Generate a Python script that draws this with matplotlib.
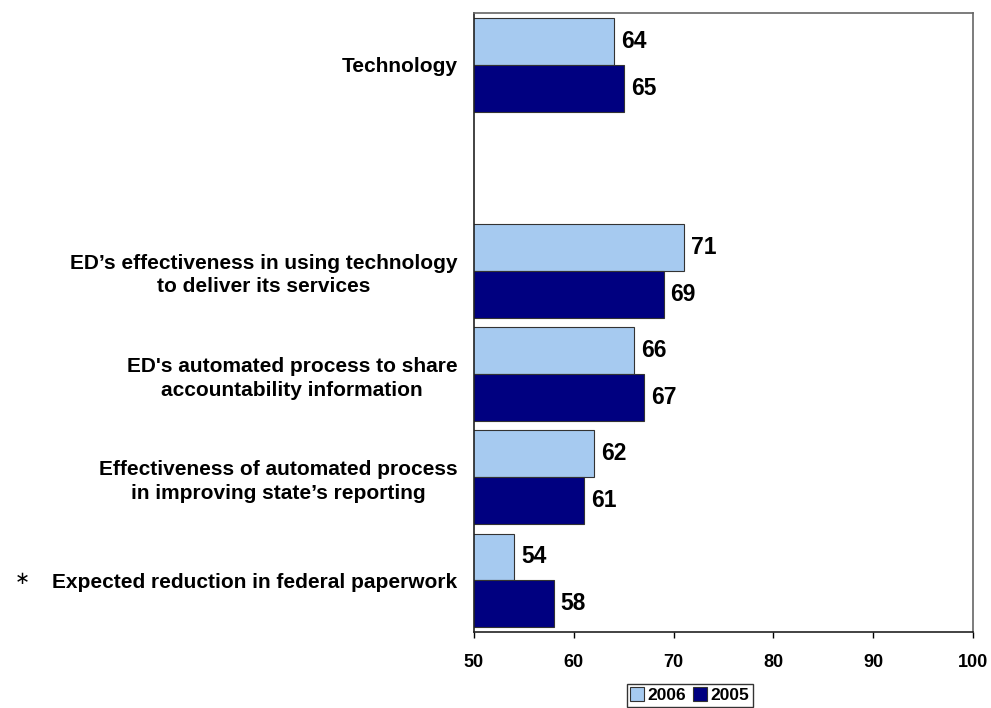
import numpy as np
import matplotlib
matplotlib.use("Agg")
import matplotlib.pyplot as plt

plt.rcParams['font.family'] = ['Liberation Sans', 'DejaVu Sans']

categories = [
    "Technology",
    "ED\u2019s effectiveness in using technology\nto deliver its services",
    "ED's automated process to share\naccountability information",
    "Effectiveness of automated process\nin improving state\u2019s reporting",
    "Expected reduction in federal paperwork",
]
slots = [0, 2, 3, 4, 5]   # slot 1 is left empty under the summary row
scores_2006 = [64, 71, 66, 62, 54]
scores_2005 = [65, 69, 67, 61, 58]
xticks = [50, 60, 70, 80, 90, 100]

light = "#A6CAF0"
navy = "#000080"

fig = plt.figure(figsize=(9.91, 7.08), dpi=100)
ax = fig.add_axes([0.4783, 0.1073, 0.5035, 0.8743])

h = 0.455
y = np.array(slots, dtype=float)
b06 = ax.barh(y - h / 2, scores_2006, height=h, left=0, color=light,
              edgecolor="#333333", linewidth=0.8, label="2006")
b05 = ax.barh(y + h / 2, scores_2005, height=h, left=0, color=navy,
              edgecolor="#333333", linewidth=0.8, label="2005")

for bars, vals in ((b06, scores_2006), (b05, scores_2005)):
    for bar, v in zip(bars, vals):
        ax.text(v + 0.7, bar.get_y() + bar.get_height() / 2, str(v),
                va="center", ha="left", fontsize=16.5, fontweight="bold")

ax.set_xlim(50, 100)
ax.set_ylim(5.5, -0.5)
ax.set_xticks(xticks)
ax.set_xticklabels([str(t) for t in xticks], fontsize=13, fontweight="bold")
ax.tick_params(axis="x", direction="out", length=4, width=1, pad=12)

ax.set_yticks(slots)
ax.set_yticklabels(categories, fontsize=15, fontweight="bold",
                   multialignment="center", linespacing=1.3)
ax.tick_params(axis="y", length=0, pad=12)

for side in ("left", "bottom"):
    ax.spines[side].set_color("#222222")
for side in ("top", "right"):
    ax.spines[side].set_color("#666666")
for s in ax.spines.values():
    s.set_linewidth(1.2)

fig.text(15 / 991, 1 - 579 / 708, "\u2217", fontsize=13, va="center",
         ha="left", family="DejaVu Sans")

leg = fig.legend(handles=[b06, b05], labels=["2006", "2005"], ncol=2,
                 loc="upper center", bbox_to_anchor=(690 / 991, 1 - 684 / 708),
                 prop={"size": 12.5, "weight": "bold"}, frameon=True,
                 fancybox=False, edgecolor="black", handlelength=0.8,
                 handleheight=0.8, handletextpad=0.2, columnspacing=0.4,
                 borderpad=0.2, borderaxespad=0)
leg.get_frame().set_linewidth(1.0)

fig.savefig("out.png", dpi=100)
